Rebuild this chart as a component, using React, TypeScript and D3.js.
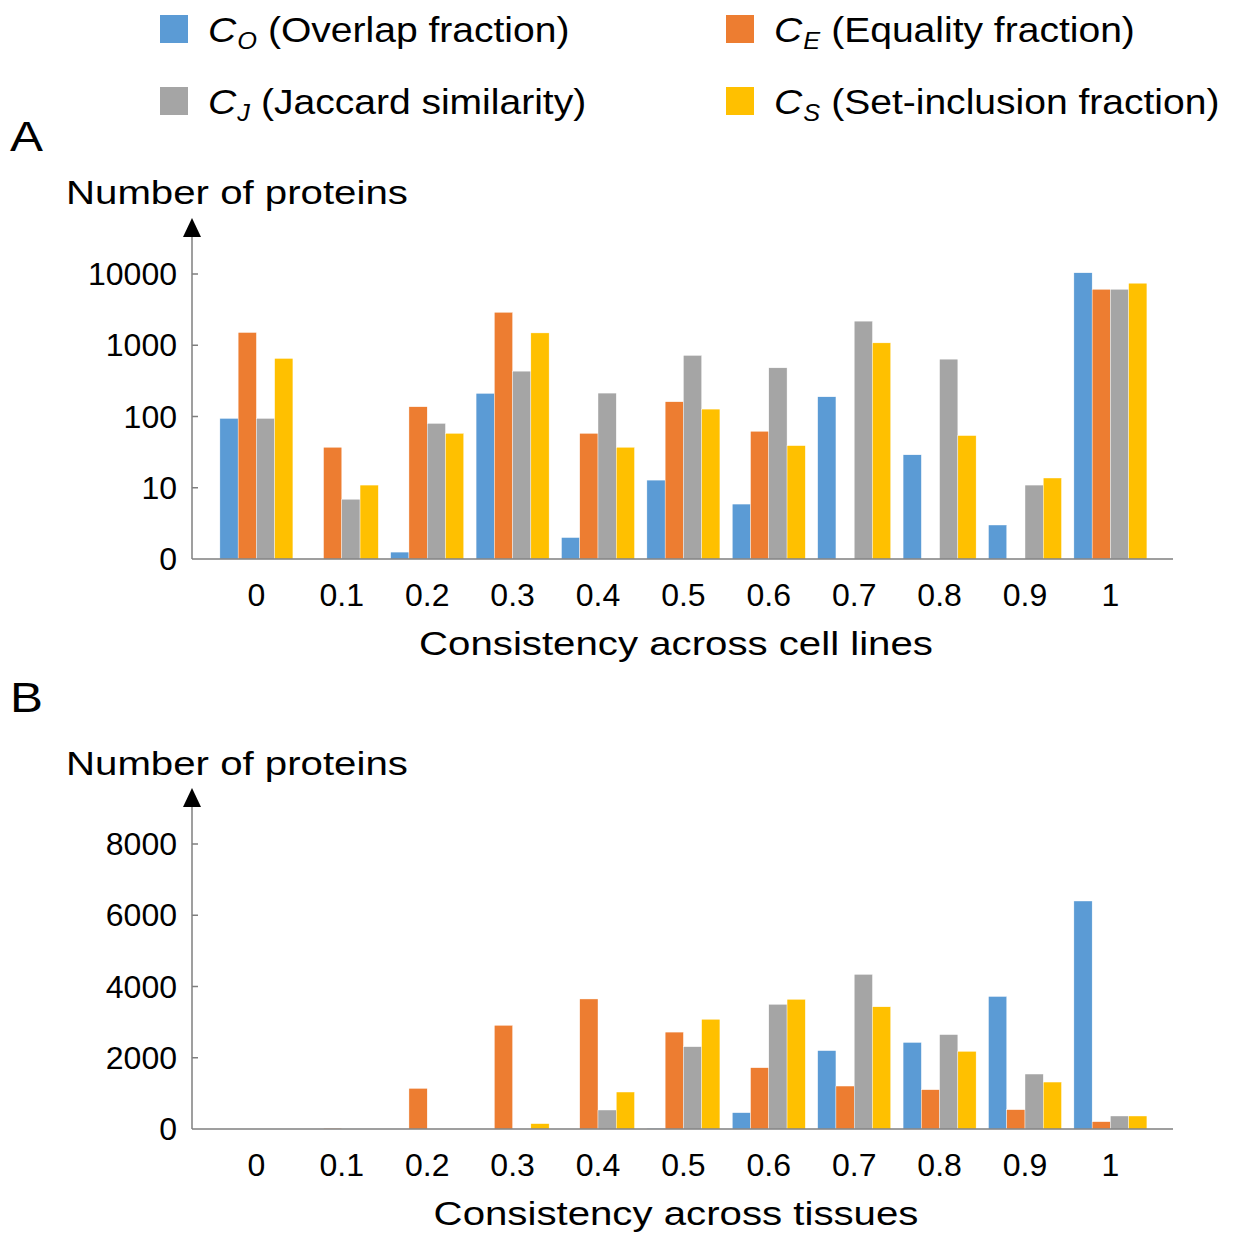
import * as d3 from 'd3';

// categories shared by both panels
const categories = ['0', '0.1', '0.2', '0.3', '0.4', '0.5', '0.6', '0.7', '0.8', '0.9', '1'];

const seriesKeys = ['CO', 'CE', 'CJ', 'CS'];
const seriesColors = ['#5B9BD5', '#ED7D31', '#A5A5A5', '#FFC000'];
const legendSub = ['O', 'E', 'J', 'S'];
const legendNames = ['(Overlap fraction)', '(Equality fraction)', '(Jaccard similarity)', '(Set-inclusion fraction)'];

// Panel A – cell lines (log axis, 0 = none)
const cellCO = [94, 0, 1.25, 211, 2, 12.8, 5.9, 189, 29, 3, 10400];
const cellCE = [1510, 37, 137, 2900, 58, 161, 62, 0, 0, 0, 6100];
const cellCJ = [94, 6.9, 80, 433, 213, 720, 482, 2180, 638, 10.9, 6100];
const cellCS = [653, 10.9, 58, 1490, 37, 127, 39, 1080, 54, 13.7, 7430];

// Panel B – tissues
const tisCO = [0, 0, 0, 0, 0, 15, 458, 2200, 2430, 3720, 6400];
const tisCE = [0, 20, 1140, 2910, 3650, 2720, 1720, 1206, 1103, 542, 205];
const tisCJ = [0, 0, 0, 0, 533, 2310, 3500, 4340, 2650, 1543, 365];
const tisCS = [0, 0, 0, 150, 1038, 3080, 3640, 3430, 2180, 1318, 365];

const logTicks = [1, 10, 100, 1000, 10000];
const logTickLabels = ['0', '10', '100', '1000', '10000'];
const linTicks = [0, 2000, 4000, 6000, 8000];

const FONT = '"Liberation Sans", Arial, sans-serif';

const W = 1247;
const H = 1236;
const axisX = 192;
const axisRight = 1173;

const x0 = d3.scaleBand<string>().domain(categories).range([213.7, 1153.1]).paddingInner(0.145).paddingOuter(0.0725);
const x1 = d3.scaleBand<string>().domain(seriesKeys).range([0, x0.bandwidth()]);

// the original figure's titles are a bit wider than the font, so stretch them
const Wide = ({ x, y, size, sx, anchor = 'start', children }:
  { x: number; y: number; size: number; sx: number; anchor?: string; children: any }) => (
  <g transform={`translate(${x},${y}) scale(${sx},1)`}>
    <text textAnchor={anchor} fontSize={size} fontFamily={FONT}>{children}</text>
  </g>
);

const Arrow = ({ x, yTop, yBottom }: { x: number; yTop: number; yBottom: number }) => (
  <g>
    <line x1={x} x2={x} y1={yBottom} y2={yTop + 14} stroke="#7f7f7f" strokeWidth={1.5} />
    <path d={`M${x},${yTop} L${x - 9},${yTop + 19} L${x + 9},${yTop + 19} Z`} fill="#000" />
  </g>
);

interface PanelProps {
  letter: string;
  letterY: number;
  titleY: number;
  baseY: number;
  topY: number;
  yScale: (v: number) => number;
  ticks: number[];
  tickLabels: string[];
  data: number[][];
  xTitle: string;
  isLog: boolean;
}

const Panel = ({ letter, letterY, titleY, baseY, topY, yScale, ticks, tickLabels, data, xTitle, isLog }: PanelProps) => (
  <g>
    <Wide x={10} y={letterY} size={43} sx={1.15}>{letter}</Wide>
    <Wide x={66} y={titleY} size={33.5} sx={1.2}>Number of proteins</Wide>

    {/* bars */}
    {categories.map((c, i) => (
      <g key={c} transform={`translate(${x0(c)},0)`}>
        {seriesKeys.map((k, j) => {
          const v = data[j][i];
          if (!v || (isLog && v <= 1)) return null;
          const y = yScale(v);
          return (
            <rect key={k} x={x1(k)} y={y} width={x1.bandwidth()} height={baseY - y}
              fill={seriesColors[j]} stroke="#fff" strokeWidth={0.4} />
          );
        })}
      </g>
    ))}

    {/* y axis */}
    <Arrow x={axisX} yTop={topY} yBottom={baseY} />
    {ticks.map((t, i) => (
      <g key={t}>
        {i > 0 && <line x1={axisX} x2={axisX + 6} y1={yScale(t)} y2={yScale(t)} stroke="#7f7f7f" strokeWidth={1.5} />}
        <text x={177} y={yScale(t) + 11} textAnchor="end" fontSize={32} fontFamily={FONT}>{tickLabels[i]}</text>
      </g>
    ))}

    {/* x axis */}
    <line x1={axisX} x2={axisRight} y1={baseY} y2={baseY} stroke="#7f7f7f" strokeWidth={1.5} />
    {categories.map(c => (
      <text key={c} x={x0(c)! + x0.bandwidth() / 2} y={baseY + 47} textAnchor="middle" fontSize={32} fontFamily={FONT}>{c}</text>
    ))}
    <Wide x={676} y={baseY + 96} size={33.5} sx={1.2} anchor="middle">{xTitle}</Wide>
  </g>
);

export default function App() {
  const yLog = d3.scaleLog().domain([1, 10000]).range([559, 274]);
  const yLin = d3.scaleLinear().domain([0, 8000]).range([1129, 844]);

  const legendPos = [
    { x: 160, y: 15 },
    { x: 726, y: 15 },
    { x: 160, y: 87 },
    { x: 726, y: 87 },
  ];

  return (
    <svg width={W} height={H} style={{ position: 'absolute', left: 0, top: 0, background: '#fff' }}>
      <rect width={W} height={H} fill="#fff" />

      {/* legend */}
      {seriesKeys.map((k, i) => (
        <g key={k} transform={`translate(${legendPos[i].x},${legendPos[i].y})`}>
          <rect width={28} height={28} fill={seriesColors[i]} />
          <g transform="translate(48,27) scale(1.1,1)">
            <text fontSize={35.5} fontFamily={FONT}>
              <tspan fontStyle="italic">C</tspan>
              <tspan fontStyle="italic" fontSize={23} dx={1} dy={7}>{legendSub[i]}</tspan>
              <tspan dx={10} dy={-7}>{legendNames[i]}</tspan>
            </text>
          </g>
        </g>
      ))}

      <Panel letter="A" letterY={151} titleY={204} baseY={559} topY={218}
        yScale={v => yLog(v)} ticks={logTicks} tickLabels={logTickLabels}
        data={[cellCO, cellCE, cellCJ, cellCS]} xTitle="Consistency across cell lines" isLog={true} />

      <Panel letter="B" letterY={712} titleY={775} baseY={1129} topY={788}
        yScale={v => yLin(v)} ticks={linTicks} tickLabels={linTicks.map(String)}
        data={[tisCO, tisCE, tisCJ, tisCS]} xTitle="Consistency across tissues" isLog={false} />
    </svg>
  );
}
